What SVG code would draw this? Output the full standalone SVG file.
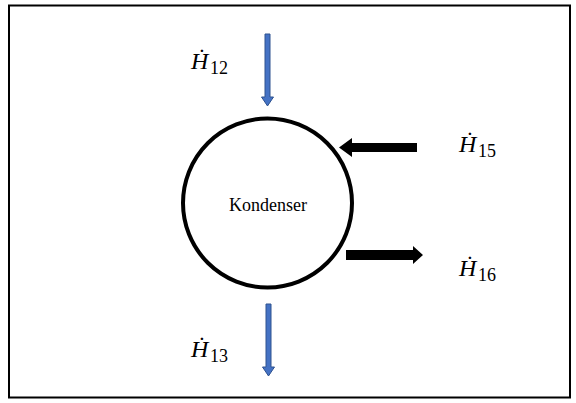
<svg xmlns="http://www.w3.org/2000/svg" width="576" height="403" viewBox="0 0 576 403">
<style>
.lbl{font-family:"Liberation Serif","DejaVu Serif",serif;font-style:italic;font-size:24px;fill:#000}
.sub{font-family:"Liberation Serif","DejaVu Serif",serif;font-size:18px;fill:#000}
.name{font-family:"Liberation Serif","Times New Roman",serif;font-size:18px;fill:#000}
.blue{fill:#4472C4;stroke:#2F528F;stroke-width:1}
.blk{fill:#000}
</style>
<rect x="0" y="0" width="576" height="403" fill="#fff"/>
<rect x="9" y="5.5" width="561" height="392" fill="none" stroke="#000" stroke-width="2"/>
<g id="kondenser">
<circle cx="267.5" cy="203" r="84.5" fill="#fff" stroke="#000" stroke-width="4"/>
<text class="name" x="268" y="211" text-anchor="middle">Kondenser</text>
</g>
<g id="connectors">
<path class="blue" d="M265,34 H270 V97 H273.5 L267.5,106 L261.5,97 H265 Z"/>
<path class="blue" d="M266,304 H271 V367 H274.5 L268.5,376 L262.5,367 H266 Z"/>
<path class="blk" d="M417,143 V152 H352 V157 L339,147.5 L352,138 V143 Z"/>
<path class="blk" d="M346,250 V260 H413 V264 L423,255 L413,246 V250 Z"/>
</g>
<g id="H12"><text class="lbl" x="191" y="69">Ḣ</text><text class="sub" x="210" y="74">12</text></g>
<g id="H13"><text class="lbl" x="191" y="357">Ḣ</text><text class="sub" x="210" y="362">13</text></g>
<g id="H15"><text class="lbl" x="459" y="152">Ḣ</text><text class="sub" x="478" y="157">15</text></g>
<g id="H16"><text class="lbl" x="459" y="276">Ḣ</text><text class="sub" x="478" y="281">16</text></g>
</svg>
